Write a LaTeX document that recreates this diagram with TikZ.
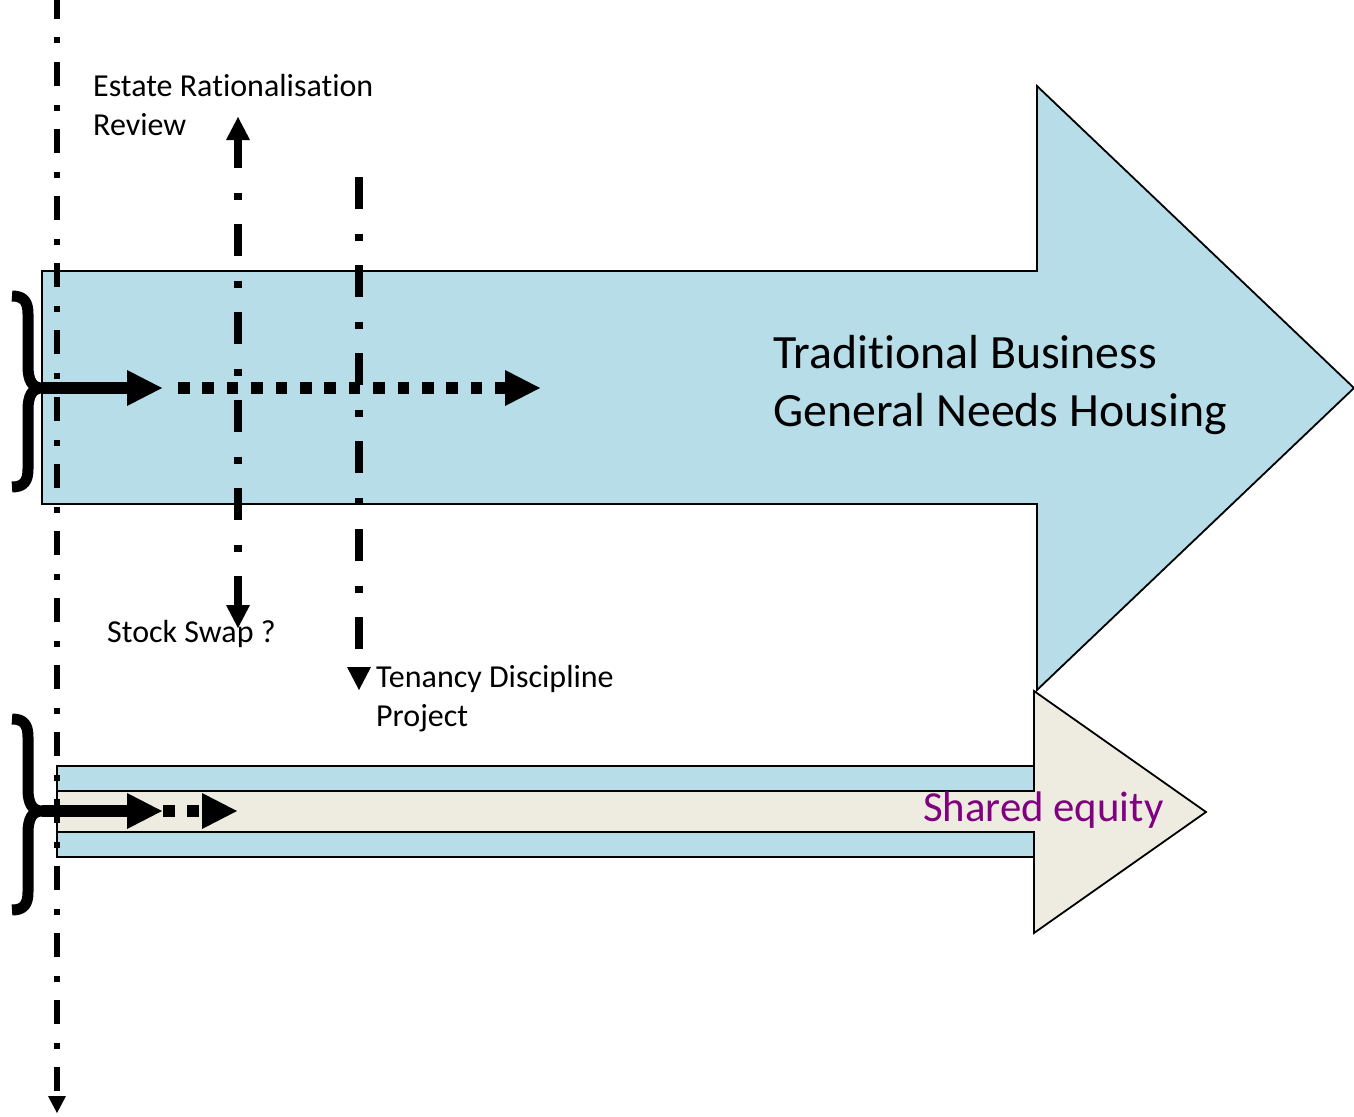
\documentclass[tikz,border=0pt]{standalone}
\usepackage{fontspec}
\setmainfont[Ligatures=NoCommon]{Carlito}
\usepackage{xcolor}
\usepackage{tikz}
\usetikzlibrary{arrows.meta,positioning,calc}
\definecolor{gnhblue}{RGB}{183,221,232}
\definecolor{sharedtan}{RGB}{238,236,225}
\definecolor{sharedpurple}{RGB}{128,0,128}

\begin{document}
\begin{tikzpicture}[
	x=1pt, y=-1pt,
	panel/.style={draw=black, line width=1.8pt, line join=miter},
	txt/.style={inner sep=0pt, anchor=base west, align=left, font=\fontsize{32}{39}\selectfont},
	timeline/.style={line width=6pt, dash pattern=on 24pt off 18.5pt on 6pt off 18.5pt, dash phase=5pt, -{Triangle[length=17pt, width=18pt, line width=0pt]}},
	project/.style={line width=8pt, dash pattern=on 32pt off 24.5pt on 7pt off 24.5pt, >={Triangle[length=23pt, width=24pt, line width=0pt]}},
	flow/.style={line width=11.5pt, -{Triangle[length=35pt, width=36pt, line width=0pt]}},
	dotflow/.style={flow, dash pattern=on 11.5pt off 12.9pt},
	brace/.style={line width=11pt, line join=round}
	]
	\useasboundingbox (0,0) rectangle (1354,1116);
	
	% Big arrow - general needs housing
	\fill[gnhblue] (42,271) -- (1037,271) -- (1037,86) -- (1354,388) -- (1037,690) -- (1037,504) -- (42,504) -- cycle;
	\draw[panel] (42,271) -- (1037,271) -- (1037,86) -- (1354,388) -- (1037,690) -- (1037,504) -- (42,504) -- cycle;
	
	% Small arrow - shared equity
	\draw[panel, fill=gnhblue] (57,766) rectangle (1034,791);
	\draw[panel, fill=gnhblue] (57,832) rectangle (1034,857);
	\draw[panel, fill=sharedtan] (57,791) -- (1034,791) -- (1034,691) -- (1206,812) -- (1034,933) -- (1034,832) -- (57,832) -- cycle;
	
	% Braces
	\draw[brace] (12,296) .. controls (24,296) and (28,302) .. (28,314) -- (28,366) .. controls (28,380) and (32,388) .. (42,388) .. controls (32,388) and (28,396) .. (28,410) -- (28,469) .. controls (28,481) and (24,487) .. (12,487);
	\draw[brace] (12,719) .. controls (24,719) and (28,725) .. (28,737) -- (28,789) .. controls (28,803) and (32,811) .. (42,811) .. controls (32,811) and (28,819) .. (28,833) -- (28,892) .. controls (28,904) and (24,910) .. (12,910);
	
	% Flow arrows
	\coordinate (gnhin) at (42,388);
	\coordinate (gnhmid) at (162,388);
	\coordinate (gnhgo) at (178,388);
	\coordinate (gnhout) at (540,388);
	\coordinate (sein) at (42,811);
	\coordinate (semid) at (162,811);
	\coordinate (sego) at (163,811);
	\coordinate (seout) at (237,811);
	\draw[flow] (gnhin) -- (gnhmid);
	\draw[dotflow] (gnhgo) -- (gnhout);
	\draw[flow] (sein) -- (semid);
	\draw[dotflow] (sego) -- (seout);
	
	% Time line
	\coordinate (tl0) at (57,0);
	\coordinate (tl1) at (57,1113);
	\draw[timeline] (tl0) -- (tl1);
	
	% Projects
	\coordinate (errtip) at (238,117);
	\coordinate (swaptip) at (238,628);
	\coordinate (tdptop) at (359,177);
	\coordinate (tdptip) at (359,690);
	\draw[project, <->, dash phase=4pt] (errtip) -- (swaptip);
	\draw[project, ->] (tdptop) -- (tdptip);
	
	% Labels (base = last line)
	\node[txt] (err) at (93,135) {Estate Rationalisation\\Review};
	\node[txt] (swap) at (107,642) {Stock Swap ?};
	\node[txt] (tdp) at (376,726) {Tenancy Discipline\\Project};
	\node[txt, font=\fontsize{47.8}{58}\selectfont] (gnh) at (773,426) {Traditional Business\\General Needs Housing};
	\node[txt, font=\fontsize{42.8}{51}\selectfont, text=sharedpurple] (se) at (923,821) {Shared equity};
	
\end{tikzpicture}
\end{document}
